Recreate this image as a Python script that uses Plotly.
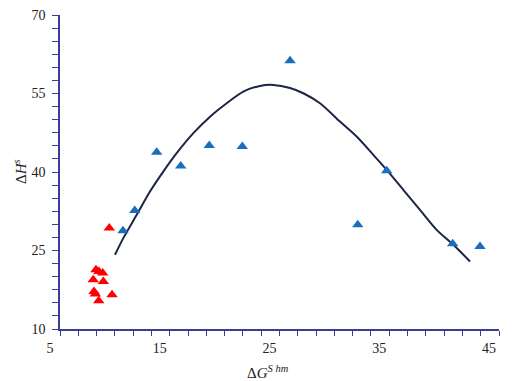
import plotly.graph_objects as go

# Blue series (triangles)
blue_x = [10.74, 11.81, 13.81, 16.00, 18.60, 21.61, 25.96, 32.13, 34.77, 40.78, 43.27]
blue_y = [28.76, 32.64, 43.79, 41.17, 45.05, 44.86, 61.28, 29.91, 40.22, 26.28, 25.77]

# Red series (triangles)
red_x = [9.49, 8.28, 8.55, 8.89, 8.03, 8.95, 8.10, 8.22, 9.74, 8.53]
red_y = [29.28, 21.32, 20.99, 20.69, 19.41, 19.08, 17.17, 16.68, 16.55, 15.40]

# Trend curve
curve_x = [10.01, 10.77, 11.99, 13.20, 14.41, 15.63, 17.15, 18.67, 20.19, 21.70,
           23.22, 24.43, 25.96, 27.17, 28.69, 30.51, 32.03, 33.55, 34.77, 36.28,
           37.80, 39.32, 40.84, 42.36]
curve_y = [24.18, 27.37, 31.82, 36.27, 40.08, 43.60, 47.42, 50.58, 53.14, 55.36,
           56.45, 56.64, 56.06, 55.05, 53.14, 49.63, 46.77, 43.27, 40.41, 36.59,
           32.77, 28.95, 26.09, 22.90]

x_ticks = [5, 15, 25, 35, 45]
y_ticks = [10, 25, 40, 55, 70]

axis_color = "#3b3b98"
font_family = "Liberation Serif"

fig = go.Figure()
fig.add_trace(go.Scatter(x=curve_x, y=curve_y, mode="lines",
                         line=dict(color="#1c2544", width=2, shape="spline", smoothing=0.8),
                         showlegend=False))
fig.add_trace(go.Scatter(x=blue_x, y=blue_y, mode="markers",
                         marker=dict(symbol="triangle-up", size=10, color="#1a6fbd"),
                         showlegend=False))
fig.add_trace(go.Scatter(x=red_x, y=red_y, mode="markers",
                         marker=dict(symbol="triangle-up", size=10, color="#ff0000"),
                         showlegend=False))

fig.update_layout(
    width=515, height=381,
    margin=dict(l=60, r=16, t=15, b=52),
    paper_bgcolor="white", plot_bgcolor="white",
    font=dict(family=font_family, size=14, color="#222222"),
    xaxis=dict(
        range=[5, 45], tickvals=x_ticks, ticktext=[str(v) for v in x_ticks],
        automargin=False,
        showgrid=False, zeroline=False,
        showline=True, linecolor=axis_color, linewidth=1.5,
        ticks="outside", ticklen=5, tickcolor=axis_color,
        ticklabelshift=-10,
        minor=dict(dtick=10/6, tick0=5, ticks="outside", ticklen=5, tickcolor=axis_color, showgrid=False),
    ),
    yaxis=dict(
        range=[10, 70], tickvals=y_ticks, ticktext=[str(v) for v in y_ticks],
        automargin=False,
        showgrid=False, zeroline=False,
        showline=True, linecolor=axis_color, linewidth=1.5,
        ticks="outside", ticklen=6, tickcolor=axis_color,
        ticklabelstandoff=4,
        minor=dict(dtick=2.5, tick0=10, ticks="outside", ticklen=6, tickcolor=axis_color, showgrid=False),
    ),
    annotations=[
        dict(text="Δ<i>G</i><sup><i>S hm</i></sup>", xref="x", yref="paper", x=25, y=0,
             xanchor="center", yanchor="middle", xshift=-12, yshift=-43,
             showarrow=False, font=dict(size=15)),
        dict(text="Δ<i>H</i><sup><i>s</i></sup>", xref="paper", yref="y", x=0, y=40,
             xanchor="center", yanchor="middle", xshift=-40, textangle=-90,
             showarrow=False, font=dict(size=15)),
    ],
)

fig.write_html("out.html", config={"displayModeBar": False},
               post_script="document.body.style.margin='0';")
